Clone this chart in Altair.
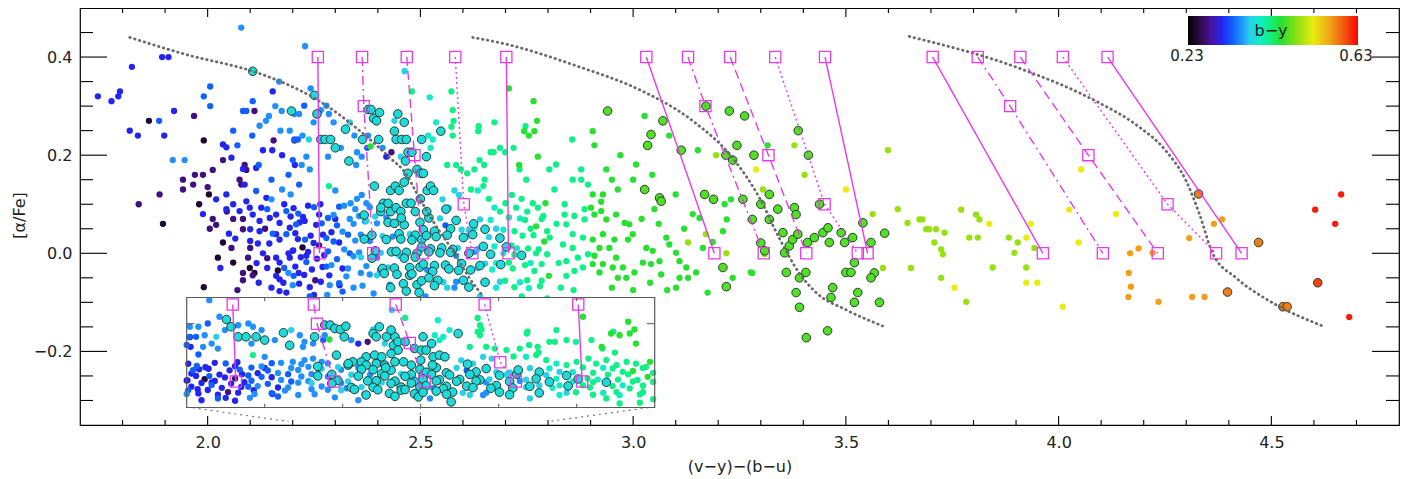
import altair as alt
import pandas as pd

# b-y colour table (rainbow, black -> red)
BY_STOPS = [0.23, 0.26, 0.285, 0.31, 0.335, 0.355, 0.375, 0.40, 0.42, 0.45, 0.49, 0.525, 0.565, 0.60, 0.63]
BY_COLORS = ["#000000", "#2e0c4c", "#4a12a0", "#2424f0", "#1060ff", "#2090ff", "#28d0e8", "#10ecc8",
             "#10f088", "#28e030", "#98e010", "#e8ec10", "#f0a018", "#f05010", "#ff0000"]
BY_LABELS = ["0.23", "0.63"]

X_LABELS = [2.0, 2.5, 3.0, 3.5, 4.0, 4.5]
X_MINOR = [1.8, 1.9, 2.1, 2.2, 2.3, 2.4, 2.6, 2.7, 2.8, 2.9, 3.1, 3.2, 3.3, 3.4, 3.6, 3.7, 3.8, 3.9,
           4.1, 4.2, 4.3, 4.4, 4.6, 4.7]
Y_LABELS = [-0.2, 0.0, 0.2, 0.4]
Y_MINOR = [-0.3, -0.25, -0.15, -0.1, -0.05, 0.05, 0.1, 0.15, 0.25, 0.3, 0.35, 0.45]

# stars without outline, grouped by their b-y colour
K_PTS = [(1.862, 0.27), (1.991, 0.23), (1.895, 0.06), (1.98, 0.10), (2.003, 0.12), (2.024, -0.009),
         (1.991, -0.069), (2.036, 0.022), (2.06, -0.019), (2.099, -0.03), (2.11, -0.04), (2.223, 0.012),
         (2.165, -0.035)]
P_PTS = [(1.838, 0.10), (1.887, 0.12), (1.942, 0.15), (1.966, 0.14), (1.97, 0.16), (1.989, 0.16),
         (1.942, 0.13), (2.012, 0.17), (2.036, 0.19), (2.087, 0.18), (2.091, 0.17), (2.075, 0.15),
         (2.079, 0.14), (1.968, 0.28), (2.11, 0.29), (2.012, 0.07), (2.02, 0.058), (2.06, 0.07),
         (2.083, 0.07), (2.083, 0.049), (2.056, 0.011), (2.10, 0.011), (2.095, -0.009), (2.083, -0.04),
         (2.106, -0.045), (2.083, -0.055), (2.005, 0.05), (2.045, 0.085), (2.155, 0.23), (2.07, -0.075),
         (2.0, 0.135), (2.262, 0.016), (2.253, -0.055), (2.432, 0.206), (2.204, 0.23), (2.135, 0.05),
         (2.14, -0.01)]
B_PTS = [(1.742, 0.32), (1.774, 0.31), (1.79, 0.32), (1.794, 0.33), (1.822, 0.38), (1.893, 0.40),
         (1.908, 0.40), (1.817, 0.25), (1.836, 0.24), (1.898, 0.24), (1.921, 0.29), (2.036, 0.222),
         (2.044, 0.216), (2.056, 0.195), (2.083, 0.172), (2.087, 0.14), (2.114, 0.174), (2.152, 0.21),
         (2.02, 0.11), (2.044, 0.12), (2.044, 0.09), (2.06, 0.10), (1.989, 0.08), (2.075, 0.086),
         (2.091, 0.106), (2.099, 0.093), (2.106, 0.079), (2.122, 0.066), (2.122, 0.045), (2.126, 0.093),
         (2.10, 0.049), (2.10, 0.025), (2.146, 0.072), (2.161, 0.079), (2.169, 0.062), (2.161, 0.039),
         (2.169, 0.028), (2.193, 0.052), (2.161, -0.009), (2.169, -0.019), (2.193, -0.009), (2.20, 0.005),
         (2.161, -0.046), (2.169, -0.053), (2.169, -0.077), (2.185, -0.08), (2.138, 0.113), (2.153, 0.33),
         (2.13, 0.0), (2.145, 0.02), (2.14, -0.03), (2.18, 0.1), (2.19, 0.0), (2.12, -0.06), (2.15, -0.07),
         (2.13, 0.21), (2.175, 0.2), (2.05, 0.04), (2.065, 0.03), (2.03, -0.03), (2.118, 0.02),
         (2.178, -0.06), (2.195, 0.075), (2.115, -0.02), (2.205, 0.18), (2.42, 0.197),
         (2.202, 0.092), (2.224, 0.074), (2.236, 0.097), (2.262, 0.079), (2.206, 0.041), (2.216, 0.063),
         (2.242, 0.036), (2.255, 0.058), (2.201, 0.006), (2.212, 0.029), (2.236, 0.003), (2.249, 0.021),
         (2.274, -0.004), (2.206, -0.027), (2.219, -0.008), (2.245, -0.033), (2.257, -0.011),
         (2.27, -0.028), (2.215, -0.062), (2.227, -0.044), (2.24, -0.069), (2.266, -0.058),
         (2.219, -0.097), (2.262, -0.1), (2.291, 0.043), (2.309, 0.022), (2.317, -0.031), (2.228, 0.066),
         (2.214, -0.04), (2.25, -0.085), (2.271, 0.038), (2.232, -0.005), (2.286, -0.045), (2.3, 0.07),
         (2.265, 0.1), (2.31, -0.065)]
R_PTS = [(1.886, 0.27), (2.006, 0.34), (1.991, 0.32), (2.006, 0.30), (2.083, 0.29), (2.091, 0.29),
         (2.106, 0.31), (2.114, 0.127), (2.185, 0.086), (2.185, 0.039), (2.208, 0.059), (2.15, 0.15),
         (2.19, 0.16), (2.12, 0.18), (2.105, 0.24), (2.06, 0.25), (2.2, 0.19), (2.215, 0.14), (2.07, 0.22),
         (2.153, 0.04), (2.18, -0.03), (2.14, 0.09), (2.227, 0.301), (2.204, 0.232), (2.212, 0.232),
         (2.375, 0.215), (2.213, 0.081), (2.25, 0.094), (2.229, 0.028), (2.268, 0.061), (2.232, -0.018),
         (2.202, -0.046), (2.24, -0.088), (2.283, 0.072), (2.309, 0.095), (2.279, 0.031), (2.304, 0.057),
         (2.33, 0.038), (2.283, 0.004), (2.296, 0.024), (2.334, 0.0), (2.279, -0.027), (2.304, -0.012),
         (2.309, -0.061), (2.317, -0.078), (2.559, 0.057)]
A_PTS = [(2.079, 0.46), (1.918, 0.19), (1.946, 0.19), (2.168, 0.35), (2.144, 0.28), (2.159, 0.30),
         (2.174, 0.29), (2.122, 0.26), (2.137, 0.27), (2.171, 0.25), (2.193, 0.25), (2.15, 0.11),
         (2.175, 0.13), (2.195, 0.12), (2.19, -0.04), (2.2, -0.065), (2.229, 0.422), (2.242, 0.336),
         (2.204, 0.284), (2.215, 0.284), (2.249, 0.267), (2.266, 0.292), (2.279, 0.301), (2.285, 0.284),
         (2.296, 0.267), (2.223, 0.24), (2.221, 0.18), (2.232, 0.197), (2.24, 0.171), (2.283, 0.197),
         (2.313, 0.215), (2.345, 0.24), (2.351, 0.206), (2.349, 0.18), (2.362, 0.197), (2.377, 0.24),
         (2.411, 0.215), (2.30, 0.128), (2.336, 0.102), (2.351, 0.111), (2.362, 0.119), (2.373, 0.102),
         (2.296, 0.078), (2.321, 0.097), (2.334, 0.07), (2.347, 0.09), (2.317, 0.044), (2.343, 0.06),
         (2.321, 0.008), (2.347, 0.026), (2.291, -0.024), (2.33, -0.031), (2.343, -0.006), (2.287, -0.065),
         (2.326, -0.047), (2.343, -0.07), (2.281, -0.085), (2.356, 0.076), (2.381, 0.094), (2.42, 0.073),
         (2.36, 0.038), (2.398, 0.061), (2.435, 0.034), (2.356, 0.002), (2.381, 0.025), (2.373, -0.026),
         (2.398, -0.009), (2.364, -0.066), (2.381, -0.043), (2.428, -0.064), (2.39, -0.082), (2.42, -0.097),
         (2.584, -0.005), (2.516, -0.034), (2.584, -0.058), (2.512, -0.088), (2.58, -0.07), (2.627, 0.003),
         (2.37, 0.065), (2.405, -0.035), (2.36, -0.04)]
C_PTS = [(2.238, 0.232), (2.334, 0.267), (2.454, 0.197), (2.463, 0.371), (2.439, 0.27), (2.394, 0.075),
         (2.373, 0.066), (2.411, 0.035), (2.407, 0.001), (2.36, -0.008), (2.424, -0.029), (2.398, -0.045),
         (2.475, 0.039), (2.45, -0.005), (2.546, 0.071), (2.597, 0.048), (2.588, 0.011), (2.554, -0.059),
         (2.563, -0.07), (2.614, 0.047), (2.64, 0.069), (2.678, 0.05), (2.61, 0.035), (2.635, 0.009),
         (2.661, 0.033), (2.652, -0.021), (2.635, -0.03), (2.687, -0.058), (2.64, -0.088), (2.552, 0.11),
         (2.567, 0.093), (2.58, 0.128), (2.591, 0.119)]
T_PTS = [(2.522, 0.318), (2.537, 0.267), (2.518, 0.24), (2.524, 0.215), (2.529, 0.232), (2.627, 0.052),
         (2.665, 0.068), (2.674, 0.014), (2.678, -0.02), (2.669, -0.033), (2.678, -0.07), (2.695, 0.048),
         (2.734, 0.071), (2.727, 0.01), (2.695, 0.0), (2.759, -0.02), (2.734, -0.059), (2.755, -0.071),
         (2.635, 0.128), (2.674, 0.093)]
S_PTS = [(2.285, 0.137), (2.48, 0.33), (2.573, 0.33), (2.576, 0.292), (2.573, 0.258), (2.576, 0.24),
         (2.578, 0.27), (2.563, 0.18), (2.584, 0.18), (2.595, 0.171), (2.61, 0.163), (2.627, 0.171),
         (2.636, 0.249), (2.65, 0.18), (2.665, 0.206), (2.674, 0.267), (2.672, 0.206), (2.687, 0.215),
         (2.699, 0.206), (2.719, 0.215), (2.637, 0.259), (2.639, 0.19), (2.651, 0.15), (2.619, 0.13),
         (2.747, 0.259), (2.733, 0.171), (2.749, 0.15), (2.648, 0.137), (2.661, 0.111), (2.687, 0.085),
         (2.7, 0.102), (2.715, 0.119), (2.725, 0.093), (2.738, 0.111), (2.751, 0.085), (2.764, 0.102),
         (2.776, 0.093), (2.789, 0.076), (2.708, 0.073), (2.721, 0.045), (2.746, 0.068), (2.759, 0.05),
         (2.785, 0.07), (2.798, 0.045), (2.714, 0.016), (2.74, 0.036), (2.753, 0.01), (2.766, 0.037),
         (2.778, 0.008), (2.804, 0.032), (2.708, -0.019), (2.721, -0.003), (2.746, -0.024), (2.772, 0.0),
         (2.785, -0.022), (2.798, -0.002), (2.699, -0.056), (2.717, -0.031), (2.751, -0.055),
         (2.768, -0.036), (2.785, -0.056), (2.721, -0.069), (2.738, -0.088), (2.781, -0.067),
         (2.798, -0.092), (2.755, -0.114), (2.781, -0.11), (2.857, 0.232), (2.819, 0.181), (2.803, 0.171),
         (2.878, 0.171), (2.894, 0.14), (2.858, 0.15), (2.878, 0.15), (2.839, 0.1), (2.839, 0.079),
         (2.862, 0.076), (2.886, 0.09), (2.886, 0.069), (2.843, 0.059), (2.858, 0.039), (2.882, 0.032),
         (2.835, 0.018), (2.858, 0.011), (2.843, -0.016), (2.87, -0.009), (2.894, -0.002), (2.882, -0.029),
         (2.862, -0.036), (2.843, -0.046), (2.82, 0.06), (2.825, -0.02), (2.815, 0.13), (2.83, -0.07),
         (2.86, -0.075)]
G_PTS = [(2.383, 0.218), (2.708, 0.336), (2.732, 0.18), (2.744, 0.249), (2.755, 0.24), (2.766, 0.31),
         (2.768, 0.249), (2.776, 0.197), (2.794, 0.102), (2.772, 0.055), (2.791, 0.024), (2.802, -0.046),
         (2.774, 0.27), (2.905, 0.249), (2.909, 0.22), (2.937, 0.171), (2.964, 0.13), (3.007, 0.181),
         (3.027, 0.28), (3.085, 0.24), (3.152, 0.21), (2.905, 0.12), (2.929, 0.12), (2.925, 0.105),
         (2.901, 0.093), (2.909, 0.079), (2.925, 0.086), (2.937, 0.069), (2.96, 0.079), (2.98, 0.062),
         (2.991, 0.059), (2.999, 0.039), (2.988, 0.028), (2.956, 0.028), (2.929, 0.039), (2.905, 0.028),
         (2.909, -0.005), (2.921, 0.011), (2.944, 0.011), (2.96, -0.009), (2.929, -0.022), (2.905, -0.022),
         (2.921, -0.039), (2.952, -0.029), (2.976, -0.029), (2.984, -0.05), (2.964, -0.05), (3.003, -0.039),
         (3.023, -0.019), (3.031, 0.011), (3.046, 0.005), (3.042, -0.022), (3.062, -0.016), (3.066, -0.043),
         (3.078, 0.032), (3.085, 0.018), (3.101, 0.001), (3.109, -0.016), (3.125, -0.029), (3.109, -0.05),
         (3.129, -0.05), (3.148, -0.039), (3.101, -0.07), (3.08, -0.075), (3.04, -0.06), (3.0, -0.075),
         (2.95, -0.07), (3.02, 0.07), (3.05, 0.09), (3.06, 0.06), (3.12, 0.05), (3.14, 0.08), (3.1, 0.12),
         (3.156, 0.072), (3.22, 0.069), (3.215, 0.1), (3.187, 0.023), (3.28, -0.04), (3.234, -0.05),
         (3.175, -0.08), (3.23, 0.11), (3.316, 0.22), (3.211, 0.045), (3.164, 0.011), (3.277, -0.039),
         (2.97, 0.2), (3.0, 0.15), (2.95, 0.15), (3.045, 0.16)]
L_PTS = [(3.195, 0.2), (3.379, 0.22), (3.403, 0.16), (3.563, 0.08), (3.599, 0.21), (3.622, 0.09),
         (3.171, 0.039), (3.129, 0.022), (3.219, 0.0), (3.309, -0.002), (3.68, 0.069), (3.696, 0.049),
         (3.708, 0.022), (3.645, 0.062), (3.653, -0.03), (3.587, -0.03), (3.673, 0.069), (3.689, 0.049),
         (3.712, 0.049), (3.732, 0.042), (3.724, 0.008), (3.728, -0.002), (3.724, -0.05), (3.771, 0.089),
         (3.806, 0.079), (3.814, 0.069), (3.79, 0.032), (3.81, 0.032), (3.783, -0.099), (3.883, 0.032),
         (3.904, 0.022), (3.845, -0.029), (3.896, 0.001), (3.943, 0.011), (3.924, -0.029), (3.305, 0.13)]
Y_PTS = [(3.289, 0.171), (3.5, 0.13), (3.837, 0.06), (3.924, 0.032), (3.935, 0.06), (3.755, -0.07),
         (3.924, -0.06), (3.95, -0.06), (4.01, -0.109), (4.025, 0.089), (4.053, 0.171), (4.047, 0.022),
         (4.135, 0.08)]
O_PTS = [(4.168, 0.0), (4.188, 0.01), (4.221, 0.001), (4.165, -0.04), (4.17, -0.068), (4.164, -0.089),
         (4.235, -0.099), (4.307, 0.031), (4.314, -0.089), (4.343, -0.089), (4.365, 0.06), (4.384, 0.069)]
D_PTS = [(4.603, 0.089), (4.664, 0.12), (4.65, 0.06), (4.683, -0.13)]

# stars drawn with a dark outline
OC_PTS = [(2.106, 0.371), (2.197, 0.29), (2.251, 0.322), (2.257, 0.284), (2.266, 0.232), (2.276, 0.232),
          (2.289, 0.232), (2.3, 0.215), (2.324, 0.253), (2.332, 0.188), (2.364, 0.232), (2.377, 0.293),
          (2.384, 0.293), (2.39, 0.275), (2.397, 0.27), (2.404, 0.287), (2.392, 0.137), (2.402, 0.232),
          (2.439, 0.249), (2.447, 0.284), (2.443, 0.232), (2.456, 0.232), (2.467, 0.232), (2.462, 0.267),
          (2.465, 0.188), (2.471, 0.206), (2.48, 0.206), (2.492, 0.171), (2.501, 0.163), (2.471, 0.163),
          (2.462, 0.145), (2.43, 0.128), (2.441, 0.137), (2.45, 0.128), (2.413, 0.102), (2.424, 0.102),
          (2.43, 0.085), (2.407, 0.085), (2.443, 0.093), (2.454, 0.085), (2.467, 0.102), (2.478, 0.102),
          (2.488, 0.085), (2.5, 0.111), (2.368, 0.078), (2.407, 0.093), (2.386, 0.037), (2.424, 0.063),
          (2.368, 0.029), (2.394, 0.005), (2.42, 0.028), (2.432, 0.003), (2.386, -0.01), (2.411, -0.031),
          (2.415, -0.041), (2.439, 0.061), (2.45, 0.04), (2.462, 0.058), (2.488, 0.037), (2.499, 0.063),
          (2.443, 0.004), (2.454, 0.029), (2.467, 0.002), (2.48, 0.027), (2.492, 0.0), (2.503, 0.028),
          (2.439, -0.03), (2.462, -0.01), (2.475, -0.029), (2.488, -0.008), (2.499, -0.028),
          (2.445, -0.043), (2.46, -0.062), (2.475, -0.045), (2.492, -0.064), (2.467, -0.077),
          (2.497, -0.08), (2.548, 0.249), (2.503, 0.232), (2.514, 0.197), (2.507, 0.163), (2.516, 0.128),
          (2.524, 0.137), (2.531, 0.128), (2.507, 0.048), (2.52, 0.072), (2.533, 0.045), (2.571, 0.05),
          (2.584, 0.067), (2.503, 0.013), (2.514, 0.036), (2.524, 0.009), (2.537, 0.034), (2.55, 0.011),
          (2.563, 0.037), (2.576, 0.008), (2.601, 0.032), (2.507, -0.022), (2.52, 0.003), (2.533, -0.025),
          (2.546, 0.001), (2.559, -0.024), (2.571, 0.002), (2.597, -0.021), (2.503, -0.056),
          (2.529, -0.037), (2.541, -0.055), (2.567, -0.032), (2.601, -0.055), (2.533, -0.066),
          (2.539, -0.106), (2.652, 0.049), (2.623, 0.038), (2.648, 0.014), (2.687, 0.031), (2.614, 0.0),
          (2.64, -0.025), (2.665, -0.002), (2.689, -0.023), (2.618, -0.034), (2.652, -0.059),
          (2.614, -0.069), (2.702, 0.013), (2.738, -0.004), (2.455, 0.072), (2.515, 0.085), (2.56, 0.09),
          (2.48, -0.042), (2.52, -0.05), (2.59, -0.035), (2.43, -0.07), (2.625, 0.06)]
OG_PTS = [(2.94, 0.29), (3.027, 0.13), (3.07, 0.27), (3.042, 0.242), (3.034, 0.22), (3.113, 0.21),
          (3.226, 0.29), (3.262, 0.28), (3.244, 0.22), (3.234, 0.19), (3.218, 0.2), (3.284, 0.2),
          (3.388, 0.25), (3.412, 0.2), (3.171, 0.3), (3.168, 0.12), (3.189, 0.11), (3.258, 0.11),
          (3.32, 0.12), (3.3, 0.1), (3.34, 0.09), (3.379, 0.093), (3.383, 0.079), (3.438, 0.1),
          (3.28, 0.069), (3.32, 0.069), (3.352, 0.042), (3.367, 0.015), (3.375, 0.028), (3.387, 0.039),
          (3.41, 0.022), (3.426, 0.032), (3.446, 0.042), (3.458, 0.052), (3.461, 0.022), (3.489, 0.042),
          (3.497, 0.022), (3.516, 0.032), (3.54, 0.062), (3.559, 0.022), (3.591, 0.041), (3.36, -0.039),
          (3.391, -0.05), (3.406, -0.039), (3.383, -0.08), (3.391, -0.11), (3.469, -0.07), (3.465, -0.09),
          (3.5, -0.039), (3.512, -0.039), (3.52, -0.019), (3.528, -0.08), (3.52, -0.1), (3.567, -0.04),
          (3.559, -0.05), (3.579, -0.1), (3.407, -0.172), (3.457, -0.158), (3.3, 0.021), (3.309, 0.005),
          (3.356, 0.001), (3.211, -0.029), (3.219, -0.068), (3.062, 0.113), (3.066, 0.106)]
OO_PTS = [(4.329, 0.121), (4.47, 0.022), (4.397, -0.079), (4.527, -0.109), (4.537, -0.109)]
OR_PTS = [(4.609, -0.06)]

PLAIN_GROUPS = [(0.25, K_PTS), (0.275, P_PTS), (0.31, B_PTS), (0.335, R_PTS), (0.355, A_PTS),
                (0.375, C_PTS), (0.40, T_PTS), (0.42, S_PTS), (0.45, G_PTS), (0.49, L_PTS),
                (0.525, Y_PTS), (0.565, O_PTS), (0.62, D_PTS)]
RING_GROUPS = [(0.385, OC_PTS), (0.465, OG_PTS), (0.58, OO_PTS), (0.605, OR_PTS)]

# magenta model tracks: top (0.4) -> optional middle -> bottom (0.0)
TRACK_STYLES = ["solid", "dashdot", "dashed", "dotted", "solid"]
G1_TRACKS = [[(2.259, 0.4), (2.263, 0.0)], [(2.363, 0.4), (2.367, 0.3), (2.389, 0.0)],
             [(2.468, 0.4), (2.486, 0.2), (2.505, 0.0)], [(2.582, 0.4), (2.602, 0.1), (2.622, 0.0)],
             [(2.702, 0.4), (2.707, 0.0)]]
G2_TRACKS = [[(3.031, 0.4), (3.191, 0.0)], [(3.129, 0.4), (3.170, 0.3), (3.307, 0.0)],
             [(3.228, 0.4), (3.318, 0.2), (3.407, 0.0)], [(3.334, 0.4), (3.450, 0.1), (3.528, 0.0)],
             [(3.451, 0.4), (3.551, 0.0)]]
G3_TRACKS = [[(3.704, 0.4), (3.963, 0.0)], [(3.810, 0.4), (3.886, 0.3), (4.104, 0.0)],
             [(3.910, 0.4), (4.070, 0.2), (4.233, 0.0)], [(4.010, 0.4), (4.256, 0.1), (4.370, 0.0)],
             [(4.115, 0.4), (4.430, 0.0)]]

# grey dotted curves
CURVE_1 = [(1.817, 0.44), (1.95, 0.405), (2.106, 0.371), (2.169, 0.351), (2.263, 0.31), (2.364, 0.245),
           (2.428, 0.195), (2.467, 0.161), (2.49, 0.125), (2.53, 0.065), (2.58, 0.0), (2.615, -0.05),
           (2.645, -0.085)]
CURVE_2 = [(2.623, 0.44), (2.703, 0.426), (2.867, 0.382), (3.023, 0.33), (3.14, 0.27), (3.234, 0.194),
           (3.297, 0.113), (3.344, 0.03), (3.39, -0.04), (3.43, -0.08), (3.5, -0.115), (3.586, -0.148)]
CURVE_3 = [(3.649, 0.442), (3.908, 0.377), (4.088, 0.31), (4.182, 0.262), (4.253, 0.208), (4.3, 0.147),
           (4.331, 0.08), (4.362, 0.0), (4.417, -0.05), (4.495, -0.097), (4.62, -0.148)]

# zoom box: its data range, and the dotted leaders down to the x axis
INSET_X = [2.2, 2.8]
INSET_Y = [-0.135, 0.436]
INSET_XTICKS = [2.3, 2.4, 2.5, 2.6, 2.7]
INSET_YTICKS = [0.3]
LEADERS = [[(1.951, -0.313), (2.19, -0.343)], [(2.5, -0.313), (2.5, -0.343)],
           [(3.05, -0.313), (2.80, -0.343)]]

W, H = 1319, 417
MAG = "#e83ae8"
FONT = "DejaVu Sans"

stars = pd.DataFrame(
    [{"x": x, "y": y, "by": v, "ring": 0} for v, pts in PLAIN_GROUPS for x, y in pts]
    + [{"x": x, "y": y, "by": v, "ring": 1} for v, pts in RING_GROUPS for x, y in pts]
)
plain = stars[stars.ring == 0]
ringed = stars[stars.ring == 1]

trk_rows = []
for g, group in enumerate([G1_TRACKS, G2_TRACKS, G3_TRACKS]):
    for t, pts in enumerate(group):
        for s, (x, y) in enumerate(pts):
            trk_rows.append({"track": f"{g}-{t}", "style": TRACK_STYLES[t], "seq": s, "x": x, "y": y})
tracks = pd.DataFrame(trk_rows)
inset_tracks = tracks[tracks.track.str.startswith("0-")]

curves = pd.DataFrame([{"curve": c, "seq": s, "x": x, "y": y}
                       for c, pts in enumerate([CURVE_1, CURVE_2, CURVE_3]) for s, (x, y) in enumerate(pts)])
leaders = pd.DataFrame([{"ln": c, "seq": s, "x": x, "y": y}
                        for c, pts in enumerate(LEADERS) for s, (x, y) in enumerate(pts)])

SX = alt.Scale(domain=[1.7, 4.8], nice=False, zero=False)
SY = alt.Scale(domain=[-0.35, 0.5], nice=False, zero=False)
IX = alt.Scale(domain=INSET_X, range=[106.7, 574.7], nice=False, zero=False)
IY = alt.Scale(domain=INSET_Y, range=[399.5, 289.5], nice=False, zero=False)
CS = alt.Scale(domain=BY_STOPS, range=BY_COLORS, type="linear", interpolate="rgb")

X_AX = alt.Axis(values=X_LABELS, format=".1f", ticks=False, tickSize=0, domain=False, grid=False,
                labelPadding=9, title="(v−y)−(b−u)", titleX=W / 2, titleY=41,
                titleAlign="center", titleBaseline="middle")
Y_AX = alt.Axis(values=Y_LABELS, format=".1f", ticks=False, tickSize=0, domain=False, grid=False,
                labelPadding=8, title="[α/Fe]", titleX=-61, titleY=207, titleAngle=270,
                titleAlign="center", titleBaseline="middle")


def mx(field="x"):
    return alt.X(f"{field}:Q", scale=SX, axis=X_AX)


def my(field="y"):
    return alt.Y(f"{field}:Q", scale=SY, axis=Y_AX)


col = alt.Color("by:Q", scale=CS, legend=None)

# ---- main panel ----
main_plain = alt.Chart(plain).mark_circle(size=40, opacity=1).encode(x=mx(), y=my(), color=col)
main_ring = alt.Chart(ringed).mark_circle(size=74, opacity=1, stroke="#1c2828", strokeWidth=0.9).encode(
    x=mx(), y=my(), color=col)
main_curves = alt.Chart(curves).mark_line(color="#6a6a6a", strokeWidth=2.8, strokeDash=[0.5, 4.5],
                                          strokeCap="round", interpolate="monotone").encode(
    x=mx(), y=my(), detail="curve:N", order="seq:Q")
dash = alt.StrokeDash("style:N", legend=None,
                      scale=alt.Scale(domain=["solid", "dashdot", "dashed", "dotted"],
                                      range=[[1, 0], [9, 4, 2, 4], [9, 5], [2, 3]]))
main_lines = alt.Chart(tracks).mark_line(color=MAG, strokeWidth=1.4).encode(
    x=mx(), y=my(), detail="track:N", order="seq:Q", strokeDash=dash)
main_sq = alt.Chart(tracks).mark_point(shape="square", filled=False, size=125, color=MAG,
                                       strokeWidth=1.3, opacity=1).encode(x=mx(), y=my())
main_leaders = alt.Chart(leaders).mark_line(color="#777", strokeWidth=1.2, strokeDash=[2, 4]).encode(
    x=mx(), y=my(), detail="ln:N", order="seq:Q")

ymaj = pd.DataFrame({"v": Y_LABELS})
ymin = pd.DataFrame({"v": Y_MINOR})
xmaj = pd.DataFrame({"v": X_LABELS})
xmin = pd.DataFrame({"v": X_MINOR})
ticks = []
for df, ln in [(ymaj, 27), (ymin, 13)]:
    ticks.append(alt.Chart(df).mark_rule(color="black", strokeWidth=1.1).encode(
        y=my("v"), x=alt.value(0), x2=alt.value(ln)))
    ticks.append(alt.Chart(df).mark_rule(color="black", strokeWidth=1.1).encode(
        y=my("v"), x=alt.value(W - ln), x2=alt.value(W)))
for df, ln in [(xmaj, 9), (xmin, 5)]:
    ticks.append(alt.Chart(df).mark_rule(color="black", strokeWidth=1.1).encode(
        x=mx("v"), y=alt.value(H - ln), y2=alt.value(H)))
    ticks.append(alt.Chart(df).mark_rule(color="black", strokeWidth=1.1).encode(
        x=mx("v"), y=alt.value(0), y2=alt.value(ln)))

# colour bar (b-y) in the top-right corner
bar_grad = alt.LinearGradient(
    gradient="linear", x1=0, x2=1, y1=0, y2=0,
    stops=[alt.GradientStop(offset=(s - BY_STOPS[0]) / (BY_STOPS[-1] - BY_STOPS[0]), color=c)
           for s, c in zip(BY_STOPS, BY_COLORS)])
one = pd.DataFrame({"t": ["b−y"]})
bar_rect = alt.Chart(one).mark_rect(color=bar_grad, strokeWidth=0).encode(
    x=alt.value(1108), x2=alt.value(1278), y=alt.value(8), y2=alt.value(37))
bar_title = alt.Chart(one).mark_text(font=FONT, fontSize=16, color="#1a1a1a").encode(
    text="t:N", x=alt.value(1191), y=alt.value(23))
bar_lo = alt.Chart(pd.DataFrame({"t": [BY_LABELS[0]]})).mark_text(
    font=FONT, fontSize=15, color="#222").encode(text="t:N", x=alt.value(1107), y=alt.value(48))
bar_hi = alt.Chart(pd.DataFrame({"t": [BY_LABELS[1]]})).mark_text(
    font=FONT, fontSize=15, color="#222").encode(text="t:N", x=alt.value(1276), y=alt.value(48))

main = alt.layer(main_plain, main_ring, main_leaders, main_curves, main_lines, main_sq, *ticks,
                 bar_rect, bar_title, bar_lo, bar_hi)

# ---- zoom box (same stars, stretched in x) ----
box = pd.DataFrame({"x": [INSET_X[0]], "x2": [INSET_X[1]], "y": [INSET_Y[0]], "y2": [INSET_Y[1]]})
in_filter = ((alt.datum.x >= INSET_X[0]) & (alt.datum.x <= INSET_X[1])
             & (alt.datum.y >= INSET_Y[0]) & (alt.datum.y <= INSET_Y[1]))
ix = alt.X("x:Q", scale=IX, axis=None)
iy = alt.Y("y:Q", scale=IY, axis=None)

box_bg = alt.Chart(box).mark_rect(fill="white", strokeWidth=0).encode(x=ix, x2="x2", y=iy, y2="y2")
in_plain = alt.Chart(plain).mark_circle(size=40, opacity=1).encode(
    x=ix, y=iy, color=col).transform_filter(in_filter)
in_ring = alt.Chart(ringed).mark_circle(size=74, opacity=1, stroke="#1c2828", strokeWidth=0.9).encode(
    x=ix, y=iy, color=col).transform_filter(in_filter)
in_lines = alt.Chart(inset_tracks).mark_line(color=MAG, strokeWidth=1.4).encode(
    x=ix, y=iy, detail="track:N", order="seq:Q", strokeDash=dash)
in_sq = alt.Chart(inset_tracks).mark_point(shape="square", filled=False, size=125, color=MAG,
                                           strokeWidth=1.3, opacity=1).encode(x=ix, y=iy)
in_xt = pd.DataFrame({"x": INSET_XTICKS})
in_yt = pd.DataFrame({"y": INSET_YTICKS})
in_ticks = [
    alt.Chart(in_xt).mark_rule(color="#555").encode(
        x=ix, y=alt.Y("lo:Q", scale=IY, axis=None), y2="hi:Q").transform_calculate(lo="-0.135", hi="-0.116"),
    alt.Chart(in_xt).mark_rule(color="#555").encode(
        x=ix, y=alt.Y("lo:Q", scale=IY, axis=None), y2="hi:Q").transform_calculate(lo="0.417", hi="0.436"),
    alt.Chart(in_yt).mark_rule(color="#555").encode(
        y=iy, x=alt.X("lo:Q", scale=IX, axis=None), x2="hi:Q").transform_calculate(lo="2.2", hi="2.21"),
    alt.Chart(in_yt).mark_rule(color="#555").encode(
        y=iy, x=alt.X("lo:Q", scale=IX, axis=None), x2="hi:Q").transform_calculate(lo="2.79", hi="2.8"),
]
box_fr = alt.Chart(box).mark_rect(fill=None, stroke="#5a5a5a", strokeWidth=1.2).encode(
    x=ix, x2="x2", y=iy, y2="y2")

inset = alt.layer(box_bg, in_plain, in_ring, in_lines, in_sq, *in_ticks, box_fr)

chart = alt.layer(main, inset).resolve_scale(x="independent", y="independent").properties(
    width=W, height=H,
    autosize=alt.AutoSizeParams(type="none"),
    padding={"left": 72, "top": 0, "right": 8, "bottom": 54},
).configure_view(stroke="black", strokeWidth=1.2).configure_axis(
    labelFont=FONT, labelFontSize=16, labelColor="#222", titleFont=FONT, titleFontSize=16,
    titleFontWeight="normal", titleColor="#222")

chart.save("out.html", embed_options={"renderer": "svg", "actions": False})
